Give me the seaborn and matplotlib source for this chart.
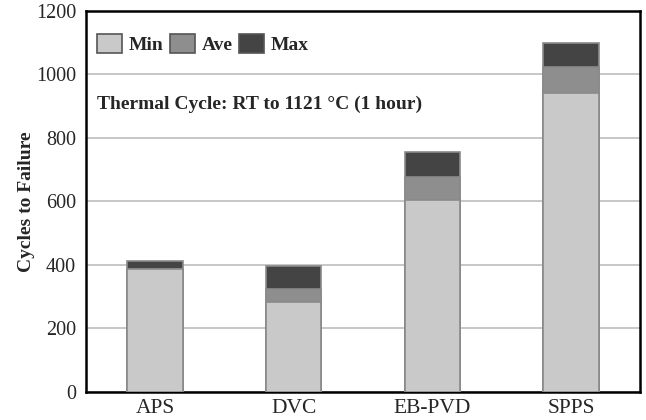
import pandas as pd
import numpy as np
import seaborn as sns
import matplotlib.pyplot as plt
from matplotlib.patches import Patch

coatings = ['APS', 'DVC', 'EB-PVD', 'SPPS']
min_cycles = [386, 282, 603, 940]
ave_cycles = [388, 323, 677, 1022]
max_cycles = [411, 396, 756, 1098]

df = pd.DataFrame({'Coating': coatings, 'Min': min_cycles,
                   'Ave': ave_cycles, 'Max': max_cycles})

sns.set_style('white')
plt.rcParams['font.family'] = ['Liberation Serif', 'DejaVu Serif']

colors = {'Min': '#c9c9c9', 'Ave': '#8e8e8e', 'Max': '#444444'}

fig = plt.figure(figsize=(6.46, 4.20), dpi=100)
ax = fig.add_axes([0.133, 0.067, 0.858, 0.907])

# overlapping bars: max first, min on top
for col in ['Max', 'Ave', 'Min']:
    sns.barplot(data=df, x='Coating', y=col, color=colors[col], width=0.4,
                edgecolor='#8a8a8a', linewidth=1.2, saturation=1, ax=ax, zorder=3)

ax.set_ylim(0, 1200)
ax.set_xlim(-0.5, 3.5)
ax.set_yticks(np.arange(0, 1201, 200))
ax.yaxis.grid(True, color='#bdbdbd', linewidth=1.2, zorder=0)
ax.set_axisbelow(True)
ax.set_xlabel('')
ax.set_ylabel('Cycles to Failure', fontsize=14, fontweight='bold', labelpad=1)
ax.tick_params(axis='y', which='major', length=0, labelsize=14.5, pad=7)
ax.tick_params(axis='x', which='major', length=0, labelsize=15.5, pad=5)
ax.set_xticks([0.5, 1.5, 2.5], minor=True)
ax.tick_params(axis='x', which='minor', direction='in', length=5, width=1.5, color='black')
for s in ax.spines.values():
    s.set_color('black')
    s.set_linewidth(1.8)
    s.set_visible(True)

handles = [Patch(facecolor=colors[k], edgecolor='#555555', linewidth=1.2, label=k)
           for k in ['Min', 'Ave', 'Max']]
ax.legend(handles=handles, loc='center left', ncol=3, frameon=False,
          prop={'weight': 'bold', 'size': 14}, handlelength=1.3, handleheight=1.1,
          handletextpad=0.35, columnspacing=0.3, borderpad=0, borderaxespad=0,
          bbox_to_anchor=(0.02, 0.913))

ax.text(0.02, 0.756, 'Thermal Cycle: RT to 1121 \u00b0C (1 hour)', transform=ax.transAxes,
        fontsize=14, fontweight='bold', va='center', ha='left')

plt.savefig('out.png', dpi=100)
